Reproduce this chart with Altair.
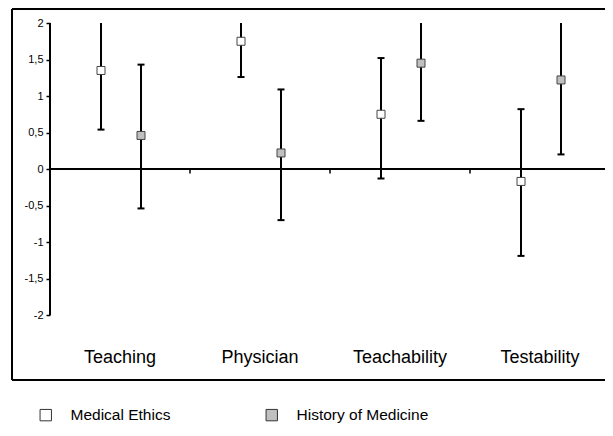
import altair as alt
import pandas as pd

cats = ["Teaching", "Physician", "Teachability", "Testability"]
groups = ["Medical Ethics", "History of Medicine"]
me_mean = [1.35, 1.75, 0.75, -0.17]
me_lo = [0.54, 1.26, -0.13, -1.19]
me_hi = [2.16, 2.24, 1.52, 0.82]
hm_mean = [0.46, 0.22, 1.45, 1.22]
hm_lo = [-0.54, -0.70, 0.66, 0.20]
hm_hi = [1.43, 1.09, 2.24, 2.24]
y_ticks = [-2, -1.5, -1, -0.5, 0, 0.5, 1, 1.5, 2]
axis_min, axis_max = -2, 2

rows = []
for i, c in enumerate(cats):
    rows.append(dict(cat=c, grp=groups[0], mean=me_mean[i], lo=me_lo[i], hi=me_hi[i]))
    rows.append(dict(cat=c, grp=groups[1], mean=hm_mean[i], lo=hm_lo[i], hi=hm_hi[i]))
df = pd.DataFrame(rows)
df_cats = pd.DataFrame({"cat": cats})
one = pd.DataFrame({"a": [0]})

W, H = 601, 371
FONT = "Liberation Sans"

xscale = alt.Scale(domain=cats, range=[38, 598], paddingInner=0, paddingOuter=0)
yscale = alt.Scale(domain=[-2.890, 2.192], nice=False, zero=False)
offscale = alt.Scale(domain=groups, type="point", range=[51, 91], padding=0)
xaxis = alt.Axis(title=None, domain=False, ticks=False, grid=False, orient="bottom",
                 offset=-23, labelPadding=0, labelBaseline="middle", labelFontSize=18,
                 labelFont=FONT, labelColor="black", labelAngle=0)
yaxis = alt.Axis(title=None, domain=False, grid=False, values=y_ticks, tickSize=4,
                 tickWidth=1.5, tickColor="black", labelPadding=3, labelFontSize=11,
                 labelFont=FONT, labelColor="black", offset=-38,
                 labelExpr="replace(toString(datum.value), '.', ',')")

X = alt.X("cat:N", scale=xscale, axis=xaxis, sort=cats)
XO = alt.XOffset("grp:N", scale=offscale, sort=groups)

frame_top = alt.Chart(one).mark_rule(color="black", strokeWidth=2).encode(
    x=alt.value(0), x2=alt.value(W), y=alt.value(0))
frame_bottom = alt.Chart(one).mark_rule(color="black", strokeWidth=2).encode(
    x=alt.value(0), x2=alt.value(W), y=alt.value(H))
frame_left = alt.Chart(one).mark_rule(color="black", strokeWidth=2).encode(
    x=alt.value(0), y=alt.value(0), y2=alt.value(H))

y_line = alt.Chart(one).mark_rule(color="black", strokeWidth=2).encode(
    x=alt.value(38), y=alt.YDatum(axis_min, scale=yscale, axis=yaxis), y2=alt.datum(axis_max))
x_line = alt.Chart(one).mark_rule(color="black", strokeWidth=2).encode(
    x=alt.value(38), x2=alt.value(598), y=alt.YDatum(0, scale=yscale, axis=yaxis))
x_ticks = alt.Chart(df_cats).mark_rule(color="black", strokeWidth=1.5).encode(
    x=alt.X("cat:N", scale=xscale, axis=xaxis, sort=cats, bandPosition=1),
    y=alt.YDatum(0, scale=yscale, axis=yaxis), y2=alt.datum(-0.06))

bars = alt.Chart(df).transform_calculate(
    hi_c=f"min(datum.hi, {axis_max})"
).mark_rule(color="black", strokeWidth=2).encode(
    x=X, xOffset=XO,
    y=alt.Y("lo:Q", scale=yscale, axis=yaxis), y2="hi_c:Q")

caps_lo = alt.Chart(df).mark_tick(color="black", size=7, thickness=2, opacity=1).encode(
    x=X, xOffset=XO, y=alt.Y("lo:Q", scale=yscale, axis=yaxis))
caps_hi = alt.Chart(df).transform_filter(f"datum.hi <= {axis_max}").mark_tick(
    color="black", size=7, thickness=2, opacity=1).encode(
    x=X, xOffset=XO, y=alt.Y("hi:Q", scale=yscale, axis=yaxis))

squares = alt.Chart(df).mark_square(size=64, stroke="#444", strokeWidth=1, opacity=1, filled=True).encode(
    x=X, xOffset=XO,
    y=alt.Y("mean:Q", scale=yscale, axis=yaxis),
    fill=alt.Fill("grp:N", sort=groups,
                  scale=alt.Scale(domain=groups, range=["white", "#c0c0c0"]),
                  legend=alt.Legend(title=None, orient="none", legendX=26, legendY=398,
                                    direction="horizontal", symbolType="square",
                                    symbolSize=130, symbolStrokeColor="#333",
                                    symbolStrokeWidth=1, symbolOpacity=1,
                                    labelFont=FONT, labelFontSize=15.5, labelColor="black",
                                    labelOffset=17, columnPadding=93, padding=0)))

chart = alt.layer(
    frame_top, frame_bottom, frame_left, y_line, x_line, x_ticks, bars, caps_lo, caps_hi, squares
).properties(
    width=W, height=H,
    autosize=alt.AutoSizeParams(type="none"),
    padding={"left": 4, "top": 1, "right": -8, "bottom": 44},
    background="white",
).configure_view(stroke=None)

chart.save("out.html", embed_options={"renderer": "svg", "actions": False})
